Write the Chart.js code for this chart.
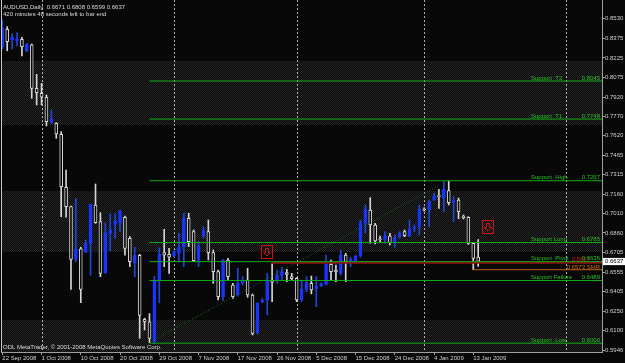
<!DOCTYPE html>
<html><head><meta charset="utf-8">
<script src="https://cdn.jsdelivr.net/npm/chart.js@4/dist/chart.umd.min.js"></script>
<style>html,body{margin:0;padding:0;background:#080808;overflow:hidden}#wrap{width:625px;height:363px}</style>
</head><body><div id="wrap"><canvas id="c" width="625" height="363"></canvas></div>
<script>
// ---- data ----
const dateTicks = ['22 Sep 2008','1 Oct 2008','10 Oct 2008','20 Oct 2008','29 Oct 2008','7 Nov 2008','17 Nov 2008','26 Nov 2008','5 Dec 2008','15 Dec 2008','24 Dec 2008','4 Jan 2009','13 Jan 2009'];
const barsPerTick = 8;
const opens  = [0.8310,0.8448,0.8365,0.8357,0.8370,0.8281,0.8328,0.7988,0.7949,0.7918,
  0.7728,0.7715,0.7629,0.7216,0.7065,0.6654,0.6735,0.6714,0.6779,0.7078,
  0.6948,0.6549,0.6857,0.6927,0.6940,0.6982,0.6818,0.6627,0.6686,0.6186,
  0.6167,0.6012,0.6483,0.6706,0.6693,0.6680,0.6701,0.6748,0.6974,0.6870,
  0.6649,0.6839,0.6870,0.6706,0.6558,0.6363,0.6649,0.6454,0.6376,0.6472,
  0.6493,0.6376,0.6082,0.6324,0.6337,0.6493,0.6485,0.6529,0.6550,0.6519,
  0.6506,0.6337,0.6420,0.6467,0.6425,0.6449,0.6459,0.6615,0.6571,0.6545,
  0.6688,0.6644,0.6644,0.6680,0.6935,0.7039,0.6922,0.6813,0.6805,0.6836,
  0.6787,0.6831,0.6870,0.6836,0.6896,0.6904,0.7044,0.7039,0.7122,0.7151,
  0.7135,0.7190,0.7099,0.7117,0.6992,0.6982,0.6779,0.6671];
const highs  = [0.8521,0.8469,0.8412,0.8422,0.8386,0.8339,0.8334,0.8097,0.8027,0.7936,
  0.7819,0.7720,0.7650,0.7351,0.7070,0.7130,0.6748,0.6805,0.7085,0.7242,
  0.7018,0.6940,0.7008,0.7008,0.7039,0.6992,0.6831,0.6748,0.6693,0.6194,
  0.6230,0.6521,0.6744,0.6888,0.6740,0.6720,0.6857,0.7013,0.7013,0.6883,
  0.6792,0.6909,0.6961,0.6727,0.6571,0.6654,0.6662,0.6467,0.6584,0.6519,
  0.6584,0.6384,0.6316,0.6350,0.6545,0.6618,0.6571,0.6592,0.6576,0.6545,
  0.6511,0.6493,0.6519,0.6524,0.6519,0.6472,0.6688,0.6649,0.6610,0.6727,
  0.6701,0.6670,0.6688,0.6961,0.7078,0.7135,0.6935,0.6836,0.6870,0.6857,
  0.6844,0.6870,0.6883,0.6961,0.6922,0.7078,0.7057,0.7117,0.7169,0.7200,
  0.7260,0.7265,0.7143,0.7132,0.7000,0.6987,0.6787,0.6808];
const lows   = [0.8295,0.8281,0.8295,0.8318,0.8240,0.8274,0.7910,0.7858,0.7858,0.7694,
  0.7715,0.7598,0.6987,0.6982,0.6420,0.6636,0.6316,0.6706,0.6530,0.6935,
  0.6518,0.6545,0.6721,0.6818,0.6869,0.6686,0.6597,0.6518,0.6038,0.6103,
  0.6004,0.5998,0.6315,0.6597,0.6545,0.6670,0.6636,0.6597,0.6753,0.6636,
  0.6597,0.6818,0.6649,0.6467,0.6337,0.6332,0.6493,0.6350,0.6368,0.6454,
  0.6358,0.6064,0.6072,0.6316,0.6220,0.6324,0.6467,0.6493,0.6480,0.6493,
  0.6324,0.6324,0.6402,0.6384,0.6285,0.6441,0.6454,0.6493,0.6480,0.6532,
  0.6480,0.6597,0.6636,0.6670,0.6862,0.6779,0.6774,0.6792,0.6779,0.6766,
  0.6748,0.6818,0.6831,0.6831,0.6870,0.6844,0.7030,0.6909,0.7112,0.7052,
  0.7026,0.7078,0.6948,0.6971,0.6969,0.6771,0.6573,0.6599];
const closes = [0.8458,0.8352,0.8388,0.8375,0.8313,0.8331,0.7988,0.7954,0.7918,0.7728,
  0.7749,0.7632,0.7221,0.7065,0.6654,0.6735,0.6420,0.6779,0.7083,0.6940,
  0.6545,0.6862,0.6883,0.6953,0.7031,0.6740,0.6636,0.6686,0.6217,0.6167,
  0.6038,0.6486,0.6693,0.6686,0.6670,0.6711,0.6748,0.6974,0.6792,0.6644,
  0.6758,0.6878,0.6706,0.6558,0.6363,0.6649,0.6519,0.6363,0.6467,0.6493,
  0.6376,0.6077,0.6311,0.6337,0.6493,0.6475,0.6532,0.6558,0.6537,0.6503,
  0.6337,0.6423,0.6472,0.6415,0.6446,0.6462,0.6615,0.6558,0.6555,0.6688,
  0.6636,0.6654,0.6680,0.6940,0.7044,0.6922,0.6797,0.6807,0.6836,0.6784,
  0.6818,0.6857,0.6839,0.6888,0.6904,0.7044,0.7039,0.7104,0.7148,0.7143,
  0.7200,0.7096,0.7117,0.7026,0.6979,0.6779,0.6662,0.6637];
const priceTicks = [0.8530,0.8375,0.8225,0.8075,0.7920,0.7770,0.7620,0.7465,0.7315,0.7160,0.7010,0.6860,0.6705,0.6555,0.6405,0.6250,0.6100,0.5946];
const supportNames  = ['Support  T2','Support  T1','Support  High','Support Long','Support  Pivot','Support Failure','Support  Low'];
const supportValues = [0.8045,0.7748,0.7267,0.6785,0.6636,0.6489,0.6000];
const supportStartBar = 30;
const redLevel = 0.6627, redStartBar = 55;
const smrLevel = 0.6573, smrStartBar = 96;
const trendBars = [30.1, 89.2], trendPrices = [0.6009, 0.7234];
const separatorBars = [8, 35, 60, 86, 115];
const shadedBands = [[0.7700,0.8200],[0.6710,0.7190],[0.5700,0.6183]];
const arrowBars = [54, 99.1], arrowPrices = [0.6711, 0.6909];
const symbolTitle = 'AUDUSD,Daily';
const timerText = '420 minutes 48 seconds left to bar end';
const copyrightText = 'ODL MetaTrader, \u00a9 2001-2008 MetaQuotes Software Corp.';

// ---- styling ----
const BG='#080808', BLUE='#1636ff', BLUEWICK='#1e46d8', WHITE='#d6d6d6', GREEN='#14ac14', GREENTXT='#26c026',
      AXIS='#a0a0a0', TXT='#d0d0d0', FONT='"Liberation Sans", Arial, sans-serif', FS=6;
const xMin=-0.265, xMax=122.24, yMin=0.59312, yMax=0.86768;
const last = opens.length-1;
const curPrice = closes[last];
const bull = opens.map((o,i)=>closes[i]>o);

const pat = (()=>{const c=document.createElement('canvas');c.width=2;c.height=2;const g=c.getContext('2d');
  g.fillStyle=BG;g.fillRect(0,0,2,2);g.fillStyle='#262626';g.fillRect(0,0,1,1);g.fillRect(1,1,1,1);
  return g.createPattern(c,'repeat');})();

const mt = {
  id:'mt',
  beforeDraw(chart){const {ctx,width,height}=chart;ctx.save();ctx.fillStyle=BG;ctx.fillRect(0,0,width,height);ctx.restore();},
  beforeDatasetsDraw(chart){
    const {ctx,chartArea:a,scales:{x,y}}=chart; ctx.save();
    ctx.fillStyle=pat;
    shadedBands.forEach(([lo,hi])=>{const t=Math.max(a.top,y.getPixelForValue(hi)),b=Math.min(a.bottom,y.getPixelForValue(lo));
      ctx.fillRect(a.left,Math.round(t),a.right-a.left,Math.round(b)-Math.round(t));});
    ctx.strokeStyle='#b0b0b0';ctx.lineWidth=1;ctx.setLineDash([2,2]);
    separatorBars.forEach(s=>{const px=Math.round(x.getPixelForValue(s))+0.5;ctx.beginPath();ctx.moveTo(px,a.top);ctx.lineTo(px,a.bottom);ctx.stroke();});
    ctx.restore();
  },
  afterDatasetsDraw(chart){
    const {ctx,chartArea:a,scales:{x,y}}=chart; ctx.save();
    ctx.font=FS+'px '+FONT; ctx.textBaseline='alphabetic';
    ctx.textAlign='right';
    ctx.fillStyle='#d01818'; ctx.fillText(redLevel.toFixed(4), a.right-12, y.getPixelForValue(redLevel)-1.5);
    ctx.fillStyle='#d06a10'; ctx.fillText(smrLevel.toFixed(4)+' SMR', a.right-2, y.getPixelForValue(smrLevel)-1);
    ctx.fillStyle=GREENTXT;
    supportValues.forEach((v,k)=>{const py=y.getPixelForValue(v)-1.5;
      ctx.textAlign='left';ctx.fillText(supportNames[k], a.right-71, py);
      ctx.textAlign='right';ctx.fillText(v.toFixed(4), a.right-2, py);});
    ctx.strokeStyle='#d01010';ctx.lineWidth=1;
    arrowBars.forEach((b,k)=>{const cx=Math.round(x.getPixelForValue(b)),cy=Math.round(y.getPixelForValue(arrowPrices[k]));
      ctx.strokeRect(cx-5.5,cy-6.5,11,13);
      ctx.beginPath();ctx.moveTo(cx-1.5,cy-3.5);ctx.lineTo(cx+1.5,cy-3.5);ctx.lineTo(cx+1.5,cy+0.5);ctx.lineTo(cx+3.5,cy+0.5);
      ctx.lineTo(cx,cy+4);ctx.lineTo(cx-3.5,cy+0.5);ctx.lineTo(cx-1.5,cy+0.5);ctx.closePath();ctx.stroke();});
    ctx.strokeStyle='#c8c8c8';ctx.beginPath();ctx.moveTo(a.left+0.5,a.top);ctx.lineTo(a.left+0.5,a.bottom);ctx.stroke();
    ctx.textAlign='left';ctx.fillStyle='#dcdcdc';
    ctx.fillText(symbolTitle+'  '+[opens[last],highs[last],lows[last],closes[last]].map(v=>v.toFixed(4)).join(' '),3,9);
    ctx.fillText(timerText,3,15.5);
    ctx.fillText(copyrightText,3,349);
    ctx.restore();
  }
};

const lineDs = (data,color,w,dash)=>({type:'line',data,borderColor:color,borderWidth:w,borderDash:dash||[],pointRadius:0,fill:false,order:0,parsing:false});
const datasets = [
  ...supportValues.map(v=>lineDs([{x:supportStartBar,y:v},{x:xMax,y:v}],GREEN,1)),
  lineDs([{x:redStartBar,y:redLevel},{x:xMax,y:redLevel}],'#8c1010',2),
  lineDs([{x:smrStartBar,y:smrLevel},{x:xMax,y:smrLevel}],'#c0620c',1),
  lineDs([{x:trendBars[0],y:trendPrices[0]},{x:trendBars[1],y:trendPrices[1]}],'#1d6e1d',1,[1,2]),
  {type:'bar',data:opens.map((o,i)=>({x:i,y:[lows[i],highs[i]]})),backgroundColor:bull.map(b=>b?BLUEWICK:WHITE),
    barThickness:1,grouped:false,order:3,borderWidth:0},
  {type:'bar',data:opens.map((o,i)=>({x:i,y:[o,closes[i]]})),backgroundColor:bull.map(b=>b?BLUE:BG),
    borderColor:bull.map(b=>b?BLUE:WHITE),borderWidth:1,borderSkipped:false,barThickness:3,minBarLength:1,grouped:false,order:2}
];

new Chart(document.getElementById('c'),{
  type:'bar',
  data:{datasets},
  options:{
    responsive:false,animation:false,devicePixelRatio:1,events:[],
    layout:{padding:{left:1,top:0,right:0,bottom:0}},
    plugins:{legend:{display:false},tooltip:{enabled:false}},
    scales:{
      x:{type:'linear',min:xMin,max:xMax,offset:false,
        grid:{drawOnChartArea:false,tickLength:3,color:AXIS,offset:false},
        border:{color:AXIS},
        ticks:{autoSkip:false,maxRotation:0,minRotation:0,align:'start',padding:0,color:TXT,font:{family:FONT,size:FS},
          callback:(v,i)=>dateTicks[i]},
        afterBuildTicks:s=>{s.ticks=dateTicks.map((_,k)=>({value:k*barsPerTick}));},
        afterFit:s=>{s.height=11;s.paddingLeft=0;s.paddingRight=0;}
      },
      y:{type:'linear',position:'right',min:yMin,max:yMax,
        grid:{drawOnChartArea:false,tickLength:3,color:AXIS},
        border:{color:AXIS},
        ticks:{autoSkip:false,padding:0,font:{family:FONT,size:FS},
          color:c=>(c.tick&&c.tick.value===curPrice)?'#000':TXT,
          showLabelBackdrop:c=>!!(c.tick&&c.tick.value===curPrice),
          backdropColor:'#ffffff',backdropPadding:{left:2,right:3,top:0,bottom:0},
          callback:v=>Number(v).toFixed(4)},
        afterBuildTicks:s=>{s.ticks=priceTicks.concat([curPrice]).map(v=>({value:v}));},
        afterFit:s=>{s.width=23;s.paddingTop=0;s.paddingBottom=0;}
      }
    }
  },
  plugins:[mt]
});
</script></body></html>
